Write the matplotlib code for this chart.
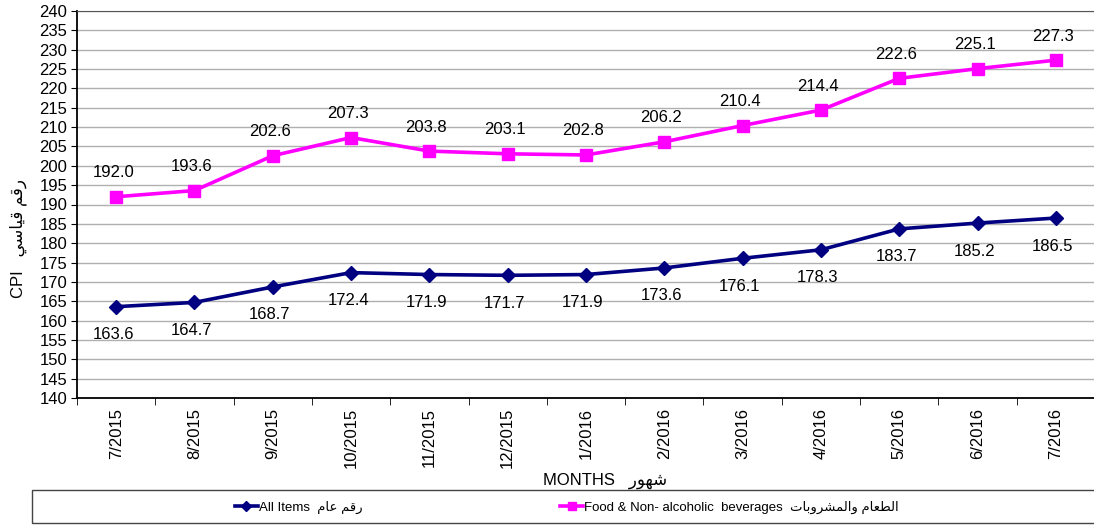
import matplotlib
matplotlib.use("Agg")
import matplotlib.pyplot as plt
from matplotlib.lines import Line2D
from matplotlib.patches import Rectangle

plt.rcParams['font.family'] = ['Liberation Sans', 'DejaVu Sans']

months = ['7/2015', '8/2015', '9/2015', '10/2015', '11/2015', '12/2015', '1/2016',
          '2/2016', '3/2016', '4/2016', '5/2016', '6/2016', '7/2016']
all_items = [163.6, 164.7, 168.7, 172.4, 171.9, 171.7, 171.9, 173.6, 176.1, 178.3, 183.7, 185.2, 186.5]
food = [192.0, 193.6, 202.6, 207.3, 203.8, 203.1, 202.8, 206.2, 210.4, 214.4, 222.6, 225.1, 227.3]

# Arabic written in presentation forms, visual order (matplotlib does no shaping)
ar_all = "\uFEE1\uFE8E\uFECB \uFEE2\uFED7\uFEAD"                      # رقم عام
ar_cpi = "\uFEF2\uFEB3\uFE8E\uFEF4\uFED7 \uFEE2\uFED7\uFEAD"          # رقم قياسي
ar_months = "\uFEAD\uFEEE\uFEEC\uFEB7"                                # شهور
ar_food = ("\uFE95\uFE8E\uFE91\uFEED\uFEAE\uFEB8\uFEE4\uFEDF\uFE8D\uFEED "
           "\uFEE1\uFE8E\uFECC\uFEC4\uFEDF\uFE8D")                    # الطعام والمشروبات

fig = plt.figure(figsize=(10.94, 5.26), dpi=100)
ax = fig.add_axes([77 / 1094, 1 - 398 / 526, 1018 / 1094, 387 / 526])

x = list(range(len(months)))
ax.plot(x, food, color='#FF00FF', lw=2.6, marker='s', ms=8.5, zorder=3)
ax.plot(x, all_items, color='#000080', lw=2.6, marker='D', ms=7.5, zorder=3)

for i, v in enumerate(food):
    ax.annotate(f"{v:.1f}", (i, v), xytext=(-3, 24), textcoords='offset pixels',
                ha='center', va='center', fontsize=12)
for i, v in enumerate(all_items):
    ax.annotate(f"{v:.1f}", (i, v), xytext=(-3, -28), textcoords='offset pixels',
                ha='center', va='center', fontsize=12)

ax.set_xlim(-0.5, len(months) - 0.5)
ax.set_ylim(140, 240)
ax.set_yticks(range(140, 241, 5))
ax.tick_params(axis='y', labelsize=12, length=4, direction='out', pad=3)
ax.set_xticks(x)
ax.set_xticklabels(months, rotation=90, fontsize=12)
ax.set_xticks([i - 0.5 for i in range(len(months) + 1)], minor=True)
ax.tick_params(axis='x', which='major', length=0, pad=7)
ax.tick_params(axis='x', which='minor', length=5, direction='out')
ax.grid(axis='y', color='#B0B0B0', lw=1)
ax.set_axisbelow(True)
for s in ['left', 'bottom']:
    ax.spines[s].set_color('black')
    ax.spines[s].set_linewidth(1.3)
ax.spines['top'].set_color('#555555')
ax.spines['right'].set_visible(False)

fig.text(543 / 1094, 1 - 481 / 526, "MONTHS   " + ar_months, fontsize=12,
         ha='left', va='center')
fig.text(18 / 1094, 1 - 238 / 526, "CPI   " + ar_cpi, fontsize=12,
         rotation=90, ha='center', va='center')

fig.patches.append(Rectangle((32 / 1094, 1 - 523 / 526), 1.0, 33 / 526,
                             transform=fig.transFigure, fill=False,
                             edgecolor='#444444', lw=1))
handles = [Line2D([], [], color='#000080', lw=2.6, marker='D', ms=5),
           Line2D([], [], color='#FF00FF', lw=2.6, marker='s', ms=6)]
labels = ["All Items  " + ar_all,
          "Food & Non- alcoholic  beverages  " + ar_food]
fig.legend(handles, labels, loc='center', bbox_to_anchor=(567 / 1094, 1 - 507 / 526),
           ncol=2, frameon=False, fontsize=9.5, handlelength=1.7, handletextpad=0.1,
           columnspacing=15)

fig.savefig("out.png", dpi=100)
